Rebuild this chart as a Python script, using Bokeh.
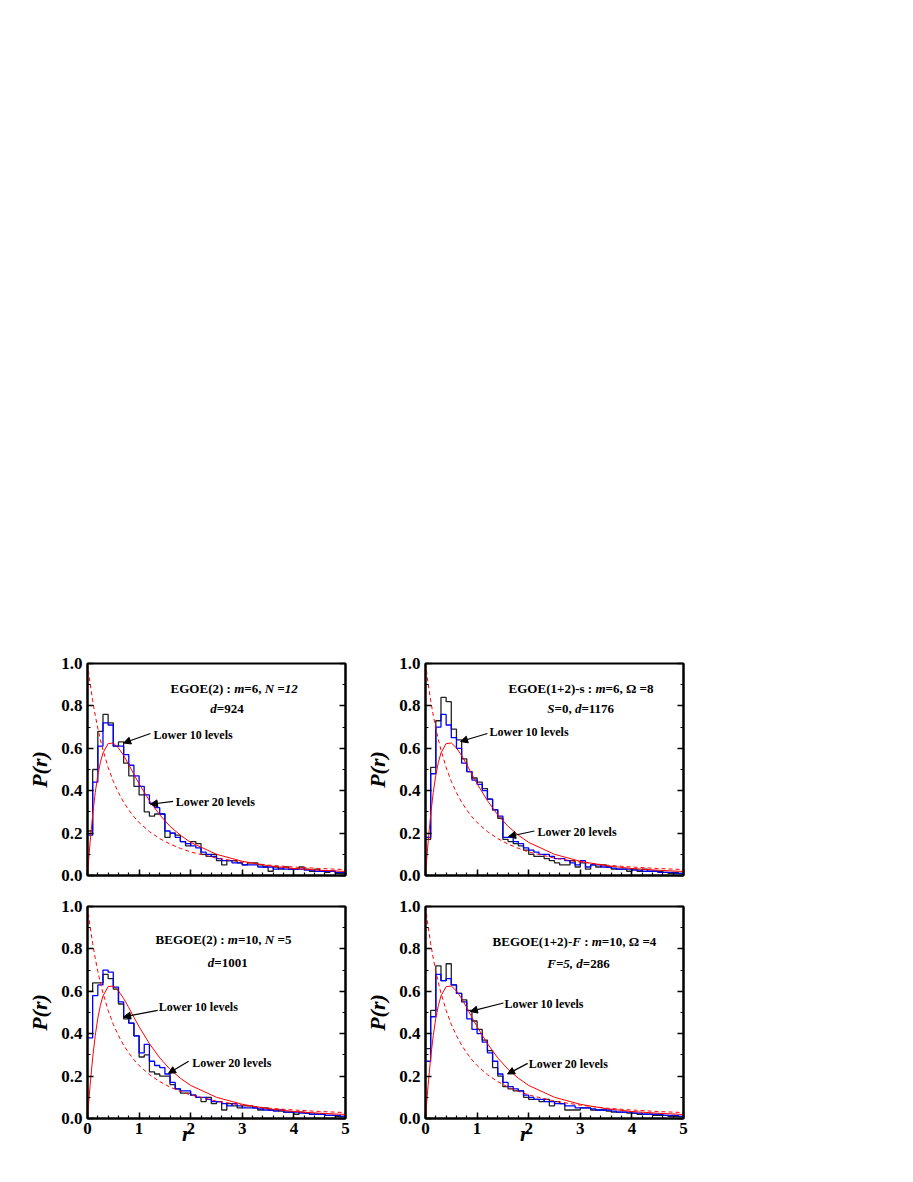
import numpy as np
from bokeh.plotting import figure
from bokeh.layouts import column, row, Spacer
from bokeh.models import (Range1d, SingleIntervalTicker, LinearAxis, NumeralTickFormatter,
                          CustomJSTickFormatter, Label, Arrow, NormalHead)
from bokeh.embed import file_html
from bokeh.resources import INLINE

FONT = "Liberation Serif"

# ---------------- data ----------------
bin_width = 0.1
n_bins = 50

# theoretical curves (values read at these r)
curve_r = [0.0, 0.01, 0.02, 0.05, 0.1, 0.15, 0.2, 0.25, 0.3, 0.4, 0.5, 0.6, 0.7, 0.8, 0.9,
           1.0, 1.2, 1.4, 1.6, 1.8, 2.0, 2.5, 3.0, 3.5, 4.0, 4.5, 5.0]
goe_curve = [0.0, 0.034, 0.066, 0.156, 0.286, 0.391, 0.473, 0.534, 0.578, 0.622, 0.625, 0.602,
             0.566, 0.523, 0.477, 0.433, 0.353, 0.286, 0.232, 0.190, 0.156, 0.100, 0.067,
             0.046, 0.033, 0.025, 0.019]
poisson_curve = [1.0, 0.980, 0.961, 0.907, 0.826, 0.756, 0.694, 0.640, 0.592, 0.510, 0.444,
                 0.391, 0.346, 0.309, 0.277, 0.250, 0.207, 0.174, 0.148, 0.128, 0.111, 0.082,
                 0.063, 0.049, 0.040, 0.033, 0.028]

egoe2_lower10 = [0.21, 0.50, 0.68, 0.76, 0.72, 0.61, 0.63, 0.53, 0.47, 0.42,
                 0.38, 0.30, 0.28, 0.29, 0.29, 0.18, 0.20, 0.19, 0.16, 0.14,
                 0.16, 0.15, 0.10, 0.09, 0.10, 0.07, 0.05, 0.07, 0.07, 0.06,
                 0.05, 0.06, 0.06, 0.05, 0.04, 0.02, 0.04, 0.03, 0.04, 0.03,
                 0.03, 0.04, 0.03, 0.02, 0.03, 0.02, 0.015, 0.02, 0.01, 0.01]
egoe2_lower20 = [0.19, 0.44, 0.61, 0.72, 0.71, 0.61, 0.61, 0.57, 0.52, 0.47,
                 0.42, 0.38, 0.34, 0.32, 0.29, 0.21, 0.20, 0.18, 0.16, 0.15,
                 0.14, 0.13, 0.11, 0.10, 0.09, 0.08, 0.07, 0.07, 0.06, 0.06,
                 0.05, 0.05, 0.05, 0.04, 0.04, 0.04, 0.03, 0.035, 0.03, 0.03,
                 0.03, 0.03, 0.025, 0.025, 0.02, 0.02, 0.02, 0.02, 0.015, 0.015]

egoe12s_lower10 = [0.17, 0.51, 0.73, 0.84, 0.82, 0.69, 0.64, 0.55, 0.49, 0.46,
                   0.44, 0.41, 0.36, 0.31, 0.27, 0.17, 0.16, 0.15, 0.14, 0.12,
                   0.10, 0.09, 0.09, 0.08, 0.07, 0.06, 0.05, 0.05, 0.07, 0.04,
                   0.06, 0.03, 0.05, 0.04, 0.05, 0.04, 0.03, 0.03, 0.03, 0.02,
                   0.03, 0.02, 0.03, 0.02, 0.02, 0.02, 0.015, 0.01, 0.015, 0.01]
egoe12s_lower20 = [0.18, 0.48, 0.70, 0.76, 0.71, 0.65, 0.60, 0.53, 0.49, 0.45,
                   0.43, 0.40, 0.36, 0.31, 0.28, 0.18, 0.18, 0.16, 0.15, 0.13,
                   0.12, 0.11, 0.10, 0.10, 0.09, 0.08, 0.08, 0.07, 0.06, 0.05,
                   0.07, 0.04, 0.05, 0.05, 0.04, 0.04, 0.035, 0.03, 0.03, 0.03,
                   0.025, 0.025, 0.02, 0.02, 0.02, 0.015, 0.015, 0.015, 0.01, 0.01]

begoe2_lower10 = [0.60, 0.64, 0.64, 0.68, 0.66, 0.61, 0.54, 0.47, 0.45, 0.39,
                  0.29, 0.30, 0.22, 0.21, 0.20, 0.20, 0.16, 0.14, 0.12, 0.12,
                  0.11, 0.10, 0.08, 0.10, 0.07, 0.08, 0.04, 0.07, 0.06, 0.05,
                  0.06, 0.06, 0.05, 0.04, 0.05, 0.04, 0.04, 0.035, 0.03, 0.03,
                  0.02, 0.03, 0.025, 0.02, 0.02, 0.02, 0.015, 0.015, 0.01, 0.01]
begoe2_lower20 = [0.38, 0.58, 0.63, 0.70, 0.69, 0.62, 0.55, 0.48, 0.45, 0.39,
                  0.31, 0.35, 0.27, 0.25, 0.24, 0.21, 0.17, 0.14, 0.13, 0.13,
                  0.11, 0.10, 0.10, 0.09, 0.08, 0.08, 0.07, 0.06, 0.07, 0.06,
                  0.05, 0.05, 0.05, 0.045, 0.04, 0.04, 0.035, 0.04, 0.03, 0.03,
                  0.03, 0.025, 0.025, 0.02, 0.02, 0.02, 0.015, 0.015, 0.015, 0.01]

begoe12f_lower10 = [0.33, 0.51, 0.72, 0.65, 0.73, 0.63, 0.59, 0.56, 0.51, 0.46,
                    0.42, 0.37, 0.32, 0.24, 0.20, 0.15, 0.14, 0.13, 0.13, 0.10,
                    0.09, 0.09, 0.08, 0.09, 0.06, 0.08, 0.07, 0.04, 0.04, 0.04,
                    0.05, 0.05, 0.04, 0.04, 0.04, 0.035, 0.03, 0.03, 0.03, 0.025,
                    0.025, 0.02, 0.02, 0.02, 0.015, 0.015, 0.015, 0.01, 0.01, 0.01]
begoe12f_lower20 = [0.27, 0.48, 0.68, 0.65, 0.66, 0.63, 0.59, 0.55, 0.47, 0.42,
                    0.40, 0.36, 0.31, 0.27, 0.21, 0.17, 0.15, 0.14, 0.13, 0.11,
                    0.10, 0.09, 0.09, 0.08, 0.08, 0.07, 0.07, 0.06, 0.06, 0.05,
                    0.05, 0.05, 0.045, 0.04, 0.04, 0.04, 0.035, 0.03, 0.03, 0.03,
                    0.025, 0.025, 0.02, 0.02, 0.02, 0.02, 0.015, 0.015, 0.015, 0.01]

titles = [
    [[("EGOE(2) : ", "bold"), ("m", "bold italic"), ("=6, ", "bold"), ("N =12", "bold italic")],
     [("d", "bold italic"), ("=924", "bold")]],
    [[("EGOE(1+2)-s : ", "bold"), ("m", "bold italic"), ("=6, \u03a9 =8", "bold")],
     [("S", "bold italic"), ("=0, ", "bold"), ("d", "bold italic"), ("=1176", "bold")]],
    [[("BEGOE(2) : ", "bold"), ("m", "bold italic"), ("=10, ", "bold"), ("N", "bold italic"), (" =5", "bold")],
     [("d", "bold italic"), ("=1001", "bold")]],
    [[("BEGOE(1+2)-", "bold"), ("F", "bold italic"), (" : ", "bold"), ("m", "bold italic"), ("=10, \u03a9 =4", "bold")],
     [("F=5, d", "bold italic"), ("=286", "bold")]],
]
label10 = "Lower 10 levels"
label20 = "Lower 20 levels"
x_title = "r"
y_title = "P(r)"

# ---------------- layout / style settings ----------------
title_pos = [[(1.61, 0.88), (2.38, 0.787)], [(1.61, 0.882), (2.36, 0.788)],
             [(1.32, 0.844), (2.33, 0.735)], [(1.30, 0.835), (2.36, 0.731)]]
# (text x, text y, arrow tail x, tail y, head x, head y)
ann10 = [(1.28, 0.663, 1.22, 0.67, 0.70, 0.625), (1.24, 0.679, 1.20, 0.67, 0.68, 0.632),
         (1.38, 0.526, 1.36, 0.51, 0.70, 0.479), (1.53, 0.542, 1.51, 0.545, 0.87, 0.505)]
ann20 = [(1.71, 0.346, 1.66, 0.35, 1.22, 0.336), (2.17, 0.203, 2.11, 0.21, 1.61, 0.184),
         (2.03, 0.261, 1.96, 0.27, 1.57, 0.213), (2.00, 0.255, 1.98, 0.26, 1.59, 0.21)]
x_title_pad = 11   # trailing no-break spaces that move the centred "r" left of centre

BOLD_W = {' ': 250, '(': 333, ')': 333, '+': 570, ',': 250, '-': 333, '.': 250, ':': 333, '=': 570,
          'B': 667, 'E': 667, 'F': 611, 'G': 778, 'N': 722, 'O': 778, 'S': 556, 'd': 556,
          'm': 833, 's': 389, '\u03a9': 768}
BI_W = {' ': 250, ',': 250, '=': 570, 'F': 667, 'N': 722, 'S': 556, 'd': 500, 'm': 778}
TITLE_SIZE = 13


def text_width(s, style):
    table = BI_W if "italic" in style else BOLD_W
    return sum(table.get(c, 500) for c in s) / 1000.0 * TITLE_SIZE


def hidden_labels():
    return CustomJSTickFormatter(code="return '';")


def make_panel(idx, black_vals, blue_vals, bottom_row, left_col):
    w = 344 if left_col else 338
    h = 278 if bottom_row else 243
    p = figure(width=w, height=h, output_backend="svg", toolbar_location=None,
               x_range=Range1d(0, 5), y_range=Range1d(0, 1.0),
               min_border_left=78 if left_col else 72, min_border_right=8,
               min_border_top=10, min_border_bottom=56 if bottom_row else 21)
    p.grid.visible = False
    p.outline_line_color = "black"
    p.outline_line_width = 2
    p.background_fill_color = "white"
    p.border_fill_color = "white"

    xa = p.xaxis[0]
    xa.ticker = SingleIntervalTicker(interval=1, num_minor_ticks=5)
    ya = p.yaxis[0]
    ya.ticker = SingleIntervalTicker(interval=0.2, num_minor_ticks=2)
    ya.formatter = NumeralTickFormatter(format="0.0")
    xa.formatter = NumeralTickFormatter(format="0")
    for ax in (xa, ya):
        ax.axis_line_width = 2
        ax.major_tick_in = 6
        ax.major_tick_out = 0
        ax.minor_tick_in = 3
        ax.minor_tick_out = 0
        ax.major_tick_line_width = 1.5
        ax.minor_tick_line_width = 1.2
        ax.major_label_text_font = FONT
        ax.major_label_text_font_style = "bold"
        ax.major_label_text_font_size = "17px"
        ax.major_label_text_color = "black"
        ax.axis_label_text_font = FONT
        ax.axis_label_text_font_style = "bold italic"
        ax.axis_label_text_font_size = "22px"
        ax.axis_label_text_color = "black"
    ya.axis_label = y_title
    ya.major_label_standoff = 5
    ya.axis_label_standoff = 6
    xa.major_label_standoff = 4
    if bottom_row:
        xa.axis_label = x_title + "\u00a0" * x_title_pad
        xa.axis_label_standoff = -16
    else:
        xa.formatter = hidden_labels()

    ra = LinearAxis(ticker=SingleIntervalTicker(interval=0.2, num_minor_ticks=2),
                    formatter=hidden_labels(), axis_line_width=2,
                    major_tick_in=6, major_tick_out=0, minor_tick_in=3, minor_tick_out=0,
                    major_tick_line_width=1.5, minor_tick_line_width=1.2,
                    major_label_standoff=0)
    p.add_layout(ra, "right")

    edges = np.round(np.arange(n_bins + 1) * bin_width, 3)
    yb = list(black_vals) + [black_vals[-1]]
    yl = list(blue_vals) + [blue_vals[-1]]
    p.step(edges, yb, mode="after", line_color="#222222", line_width=1.3)
    p.step(edges, yl, mode="after", line_color="#0000ff", line_width=1.3)

    p.line(curve_r, goe_curve, line_color="#ff0000", line_width=1)
    p.line(curve_r, poisson_curve, line_color="#ff0000", line_width=1, line_dash="4 3")

    for (lx, ly), segs in zip(title_pos[idx], titles[idx]):
        off = 0.0
        for txt, style in segs:
            p.add_layout(Label(x=lx, y=ly, x_offset=off, text=txt.replace(" ", "\u00a0"),
                               text_font=FONT, text_font_style=style,
                               text_font_size=f"{TITLE_SIZE}px",
                               text_baseline="middle", text_align="left", text_color="black"))
            off += text_width(txt, style)

    for txt, (tx, ty, ax0, ay0, ax1, ay1) in ((label10, ann10[idx]), (label20, ann20[idx])):
        p.add_layout(Arrow(end=NormalHead(size=7, fill_color="black", line_color="black"),
                           x_start=ax0, y_start=ay0, x_end=ax1, y_end=ay1,
                           line_color="black", line_width=1.2))
        p.add_layout(Label(x=tx, y=ty, text=txt, text_font=FONT, text_font_style="bold",
                           text_font_size="12px", text_baseline="middle", text_align="left",
                           text_color="black"))
    return p


p1 = make_panel(0, egoe2_lower10, egoe2_lower20, False, True)
p2 = make_panel(1, egoe12s_lower10, egoe12s_lower20, False, False)
p3 = make_panel(2, begoe2_lower10, begoe2_lower20, True, True)
p4 = make_panel(3, begoe12f_lower10, begoe12f_lower20, True, False)

layout = column(Spacer(height=653, width=10),
                row(Spacer(width=9, height=10), p1, p2),
                row(Spacer(width=9, height=10), p3, p4))

open("out.html", "w").write(file_html(layout, INLINE))
